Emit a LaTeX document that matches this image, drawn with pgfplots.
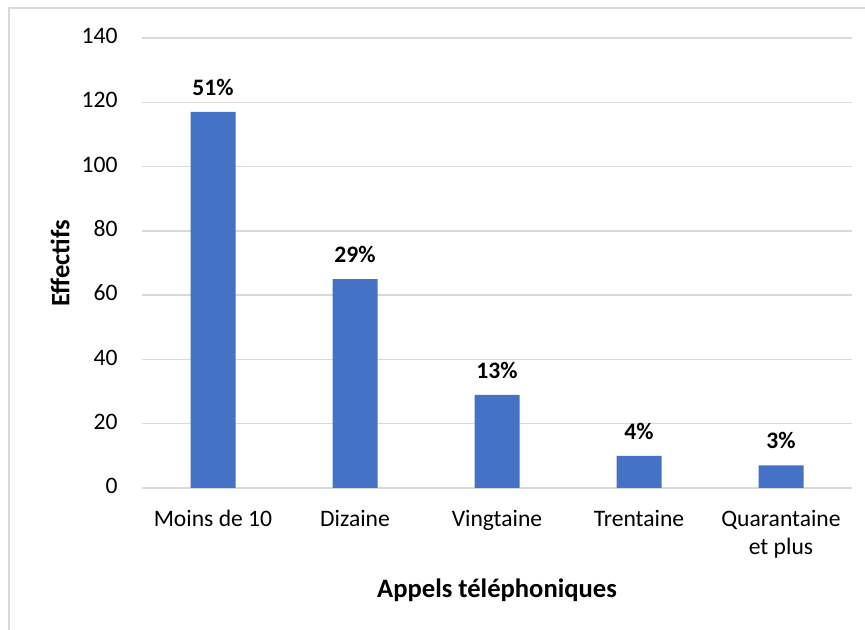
\documentclass[border=0pt]{standalone}
\usepackage{fontspec}
\setmainfont{Carlito}
\usepackage{pgfplots}
\pgfplotsset{compat=1.18}
\definecolor{barblue}{HTML}{4472C4}
\definecolor{gridgray}{HTML}{D9D9D9}
\begin{document}
\fontsize{11.8}{14}\selectfont
\begin{tikzpicture}
\path[use as bounding box] (-71pt,-71pt) rectangle (361.5pt,244pt);
\fill[white] (-71pt,-71pt) rectangle (361.5pt,244pt);
\draw[gridgray, line width=0.8pt] (-66.5pt,-72pt) -- (-66.5pt,240pt) -- (362pt,240pt);
\begin{axis}[
  at={(0,0)}, anchor=south west,
  scale only axis, width=355pt, height=225pt,
  xmin=-0.5, xmax=4.5, ymin=0, ymax=140,
  ytick={0,20,...,140},
  xtick={0,...,4},
  xticklabels={Moins de 10, Dizaine, Vingtaine, Trentaine, {Quarantaine\\et plus}},
  typeset ticklabels with strut,
  xticklabel style={align=center, inner sep=0pt, yshift=-9pt},
  yticklabel style={anchor=east, inner sep=0pt, xshift=-12pt},
  /pgf/number format/assume math mode=true,
  axis line style={draw=none},
  tick style={draw=none},
  ymajorgrids,
  major grid style={gridgray, line width=0.75pt},
  ylabel={Effectifs},
  xlabel={Appels téléphoniques},
  ylabel style={at={(axis description cs:0,0.5)}, anchor=center, yshift=41pt},
  xlabel style={at={(axis description cs:0.5,0)}, anchor=center, yshift=-51pt},
  label style={font=\fontsize{13.3}{16}\selectfont\bfseries},
  ticklabel style={font=\fontsize{11.8}{14}\selectfont},
]
\addplot[ybar, bar width=22.5pt, fill=barblue, draw=none,
  point meta=explicit,
  nodes near coords={\pgfmathprintnumber{\pgfplotspointmeta}\%},
  nodes near coords style={font=\fontsize{11.8}{14}\selectfont\bfseries, anchor=south, inner sep=0pt, yshift=8pt},
] table[x=x, y=y, meta=p] {
x y p
0 117 51
1 65 29
2 29 13
3 10 4
4 7 3
};
\end{axis}
\end{tikzpicture}
\end{document}
